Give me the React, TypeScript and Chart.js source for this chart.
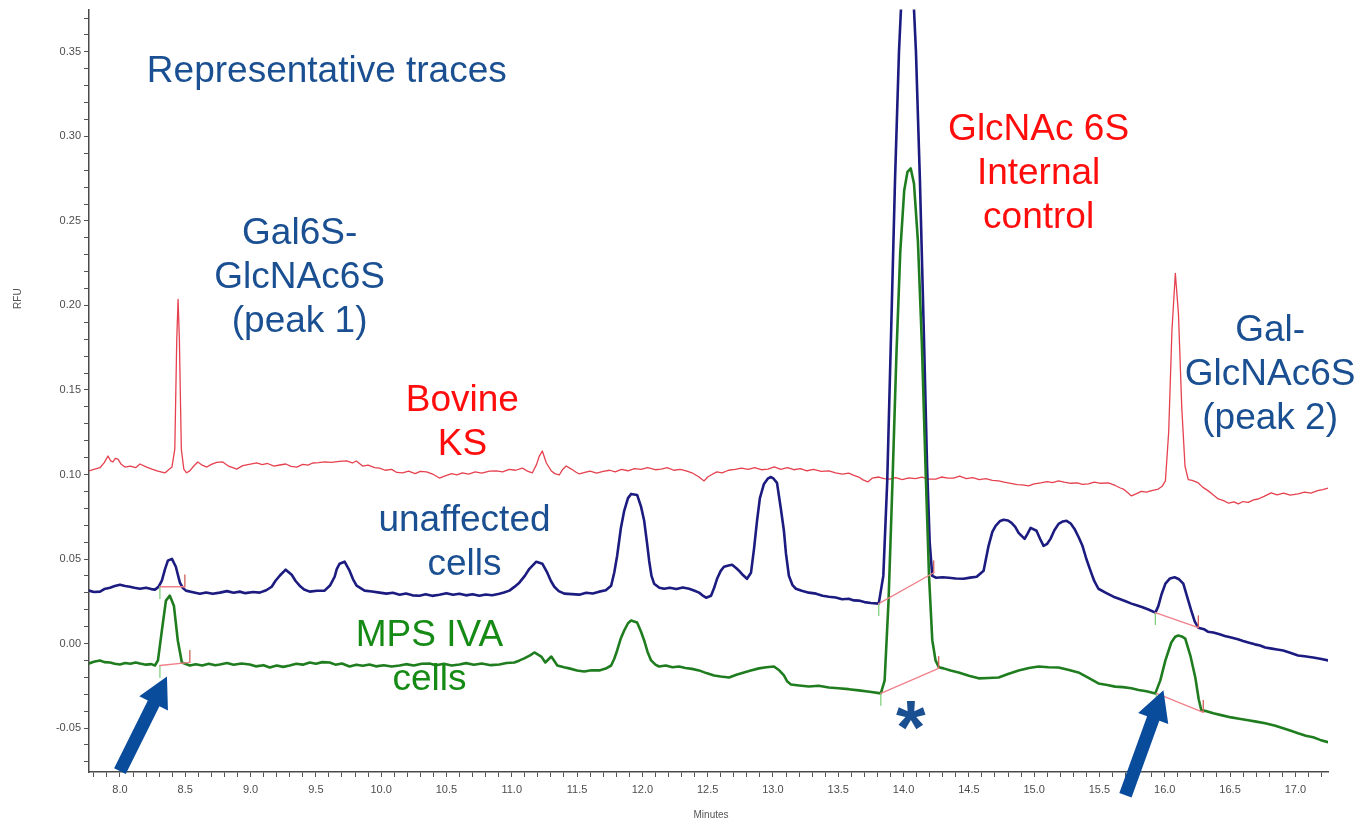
import React, { useEffect, useRef } from "react";
import { Chart, registerables } from "chart.js";

Chart.register(...registerables);

// ---------------- DATA ----------------
// Bovine KS (red trace)
const ksTime = [7.763, 7.8, 7.847, 7.88, 7.908, 7.93, 7.946, 7.965, 7.985, 8.01, 8.038, 8.08, 8.12, 8.153, 8.2, 8.245, 8.29, 8.344, 8.375, 8.398, 8.42, 8.435, 8.445, 8.455, 8.47, 8.489, 8.51, 8.535, 8.565, 8.596, 8.63, 8.665, 8.7, 8.74, 8.787, 8.83, 8.865, 8.894, 8.94, 8.99, 9.047, 9.09, 9.13, 9.18, 9.223, 9.27, 9.31, 9.353, 9.4, 9.44, 9.476, 9.52, 9.57, 9.62, 9.68, 9.735, 9.78, 9.81, 9.858, 9.9, 9.95, 9.988, 10.03, 10.08, 10.12, 10.164, 10.21, 10.26, 10.3, 10.347, 10.4, 10.446, 10.49, 10.54, 10.58, 10.622, 10.67, 10.72, 10.77, 10.83, 10.882, 10.93, 10.98, 11.03, 11.081, 11.12, 11.157, 11.19, 11.211, 11.234, 11.265, 11.303, 11.33, 11.364, 11.39, 11.417, 11.456, 11.49, 11.517, 11.56, 11.6, 11.65, 11.7, 11.75, 11.792, 11.84, 11.89, 11.94, 11.99, 12.04, 12.1, 12.144, 12.19, 12.24, 12.29, 12.335, 12.38, 12.434, 12.473, 12.5, 12.526, 12.57, 12.61, 12.66, 12.71, 12.76, 12.81, 12.86, 12.91, 12.962, 13.01, 13.06, 13.11, 13.16, 13.21, 13.26, 13.31, 13.37, 13.428, 13.48, 13.53, 13.58, 13.62, 13.657, 13.69, 13.726, 13.76, 13.81, 13.85, 13.894, 13.94, 13.99, 14.04, 14.09, 14.14, 14.19, 14.246, 14.29, 14.34, 14.384, 14.43, 14.48, 14.53, 14.58, 14.63, 14.68, 14.728, 14.77, 14.82, 14.87, 14.91, 14.957, 15.0, 15.05, 15.1, 15.14, 15.187, 15.23, 15.28, 15.33, 15.37, 15.416, 15.46, 15.51, 15.569, 15.62, 15.66, 15.683, 15.72, 15.745, 15.78, 15.82, 15.86, 15.9, 15.951, 15.98, 16.005, 16.03, 16.055, 16.081, 16.105, 16.13, 16.155, 16.18, 16.21, 16.257, 16.29, 16.333, 16.37, 16.41, 16.45, 16.49, 16.53, 16.563, 16.6, 16.64, 16.68, 16.716, 16.76, 16.815, 16.86, 16.91, 16.96, 17.021, 17.07, 17.12, 17.17, 17.21, 17.251];
const ksValue = [0.1021, 0.103, 0.104, 0.107, 0.1109, 0.108, 0.1074, 0.1095, 0.1091, 0.106, 0.1044, 0.105, 0.104, 0.1062, 0.1045, 0.1032, 0.102, 0.1009, 0.103, 0.1044, 0.115, 0.18, 0.2035, 0.18, 0.115, 0.1032, 0.101, 0.1021, 0.105, 0.1074, 0.1055, 0.1044, 0.106, 0.1072, 0.1074, 0.105, 0.104, 0.1032, 0.1052, 0.106, 0.1068, 0.1058, 0.1065, 0.105, 0.1056, 0.1062, 0.1048, 0.1044, 0.106, 0.1055, 0.1068, 0.107, 0.1075, 0.1072, 0.1078, 0.108, 0.1068, 0.108, 0.105, 0.1055, 0.104, 0.1038, 0.1025, 0.103, 0.1012, 0.1009, 0.102, 0.1005, 0.1018, 0.1015, 0.1, 0.0979, 0.0992, 0.1005, 0.0998, 0.1009, 0.1002, 0.1015, 0.1008, 0.102, 0.1021, 0.1015, 0.103, 0.1025, 0.1038, 0.102, 0.1009, 0.106, 0.1109, 0.1139, 0.1068, 0.1021, 0.1005, 0.0997, 0.103, 0.105, 0.1032, 0.1015, 0.1003, 0.1012, 0.102, 0.1008, 0.1018, 0.1025, 0.1015, 0.103, 0.1022, 0.1035, 0.103, 0.104, 0.1028, 0.1032, 0.104, 0.1025, 0.103, 0.1021, 0.101, 0.0985, 0.0962, 0.0985, 0.0997, 0.1015, 0.1009, 0.1025, 0.103, 0.1038, 0.103, 0.104, 0.1028, 0.1032, 0.1045, 0.103, 0.104, 0.1028, 0.1035, 0.1022, 0.103, 0.1018, 0.1021, 0.101, 0.1002, 0.1008, 0.0995, 0.0985, 0.0968, 0.0956, 0.0978, 0.0985, 0.0975, 0.0973, 0.0982, 0.097, 0.098, 0.0975, 0.0985, 0.0972, 0.0973, 0.0985, 0.0978, 0.0979, 0.099, 0.0975, 0.0982, 0.097, 0.0975, 0.0965, 0.0962, 0.0955, 0.0948, 0.094, 0.0938, 0.0932, 0.0945, 0.095, 0.0958, 0.0952, 0.0962, 0.0955, 0.0948, 0.095, 0.0942, 0.0944, 0.0955, 0.0948, 0.095, 0.0935, 0.092, 0.0914, 0.089, 0.0873, 0.0885, 0.09, 0.0895, 0.0905, 0.0914, 0.093, 0.0962, 0.125, 0.185, 0.219, 0.195, 0.14, 0.105, 0.097, 0.0965, 0.095, 0.0925, 0.0903, 0.088, 0.0855, 0.0845, 0.083, 0.0838, 0.0826, 0.084, 0.0835, 0.085, 0.0855, 0.087, 0.0891, 0.088, 0.089, 0.0878, 0.0885, 0.0895, 0.089, 0.0905, 0.091, 0.092];

// unaffected cells (blue trace)
const unaffectedTime = [7.763, 7.8, 7.847, 7.88, 7.924, 7.96, 8.0, 8.04, 8.076, 8.11, 8.153, 8.2, 8.24, 8.268, 8.295, 8.321, 8.345, 8.367, 8.398, 8.428, 8.459, 8.48, 8.505, 8.55, 8.612, 8.66, 8.71, 8.765, 8.82, 8.87, 8.917, 8.96, 9.02, 9.07, 9.12, 9.162, 9.19, 9.223, 9.269, 9.315, 9.345, 9.376, 9.41, 9.453, 9.51, 9.567, 9.61, 9.644, 9.66, 9.682, 9.72, 9.758, 9.785, 9.812, 9.873, 9.93, 9.988, 10.04, 10.09, 10.141, 10.19, 10.24, 10.294, 10.34, 10.39, 10.446, 10.5, 10.55, 10.599, 10.65, 10.7, 10.752, 10.8, 10.85, 10.905, 10.94, 10.982, 11.02, 11.058, 11.1, 11.135, 11.188, 11.234, 11.272, 11.3, 11.326, 11.36, 11.402, 11.46, 11.517, 11.57, 11.62, 11.67, 11.72, 11.761, 11.785, 11.807, 11.835, 11.861, 11.89, 11.914, 11.96, 11.99, 12.014, 12.035, 12.052, 12.07, 12.09, 12.13, 12.167, 12.21, 12.26, 12.31, 12.358, 12.4, 12.434, 12.46, 12.488, 12.526, 12.55, 12.572, 12.6, 12.625, 12.66, 12.687, 12.72, 12.74, 12.77, 12.801, 12.832, 12.855, 12.878, 12.9, 12.931, 12.96, 12.985, 13.005, 13.031, 13.06, 13.084, 13.1, 13.122, 13.15, 13.176, 13.22, 13.275, 13.33, 13.38, 13.428, 13.48, 13.53, 13.58, 13.62, 13.657, 13.7, 13.75, 13.81, 13.845, 13.875, 13.905, 13.935, 13.965, 13.995, 14.03, 14.065, 14.095, 14.125, 14.155, 14.18, 14.2, 14.22, 14.25, 14.3, 14.346, 14.4, 14.46, 14.51, 14.56, 14.613, 14.651, 14.68, 14.705, 14.74, 14.766, 14.8, 14.827, 14.855, 14.881, 14.927, 14.95, 14.973, 15.018, 15.045, 15.072, 15.1, 15.125, 15.155, 15.187, 15.22, 15.248, 15.28, 15.309, 15.34, 15.37, 15.4, 15.431, 15.46, 15.492, 15.55, 15.607, 15.66, 15.7, 15.745, 15.79, 15.83, 15.875, 15.928, 15.95, 15.975, 16.005, 16.04, 16.075, 16.11, 16.142, 16.17, 16.203, 16.23, 16.257, 16.3, 16.33, 16.372, 16.42, 16.46, 16.509, 16.56, 16.6, 16.639, 16.69, 16.73, 16.769, 16.82, 16.86, 16.907, 16.96, 17.021, 17.07, 17.136, 17.19, 17.251];
const unaffectedValue = [0.0313, 0.0305, 0.0307, 0.0322, 0.033, 0.034, 0.0348, 0.034, 0.0336, 0.033, 0.0324, 0.033, 0.0322, 0.0319, 0.0335, 0.0372, 0.044, 0.049, 0.0501, 0.0454, 0.036, 0.033, 0.0313, 0.0305, 0.0295, 0.0302, 0.0294, 0.0301, 0.031, 0.03, 0.0307, 0.0298, 0.0305, 0.0301, 0.0315, 0.0336, 0.037, 0.0401, 0.0437, 0.0407, 0.037, 0.0342, 0.032, 0.0307, 0.0312, 0.0313, 0.0345, 0.0395, 0.044, 0.0472, 0.0484, 0.0431, 0.038, 0.0342, 0.0313, 0.0308, 0.0301, 0.0295, 0.03, 0.0289, 0.0296, 0.0285, 0.0283, 0.0292, 0.0282, 0.0289, 0.0298, 0.0288, 0.0295, 0.0285, 0.0292, 0.0283, 0.029, 0.0286, 0.0295, 0.0302, 0.0313, 0.0335, 0.036, 0.04, 0.0442, 0.0484, 0.0472, 0.0419, 0.037, 0.0336, 0.031, 0.0295, 0.0292, 0.0289, 0.03, 0.0296, 0.0307, 0.0315, 0.0342, 0.042, 0.0519, 0.068, 0.0785, 0.086, 0.0885, 0.0879, 0.081, 0.0726, 0.06, 0.049, 0.04, 0.0354, 0.033, 0.0324, 0.033, 0.0322, 0.0332, 0.0324, 0.0312, 0.0301, 0.0285, 0.0271, 0.0283, 0.033, 0.0383, 0.043, 0.0454, 0.0462, 0.0466, 0.0445, 0.0431, 0.0405, 0.0383, 0.0419, 0.056, 0.0726, 0.086, 0.0944, 0.0975, 0.0985, 0.0975, 0.095, 0.08, 0.0667, 0.053, 0.0401, 0.0345, 0.0324, 0.0312, 0.0301, 0.0295, 0.0283, 0.0277, 0.0272, 0.0262, 0.0265, 0.0255, 0.0254, 0.0245, 0.024, 0.0236, 0.04, 0.096, 0.185, 0.275, 0.35, 0.4, 0.42, 0.4, 0.35, 0.275, 0.185, 0.105, 0.06, 0.04, 0.0389, 0.0392, 0.0389, 0.0385, 0.0383, 0.039, 0.0395, 0.0431, 0.0578, 0.066, 0.0696, 0.0725, 0.0732, 0.0728, 0.0714, 0.069, 0.0655, 0.0619, 0.065, 0.0684, 0.0667, 0.062, 0.0578, 0.059, 0.0619, 0.067, 0.0708, 0.0722, 0.0726, 0.071, 0.0678, 0.063, 0.0578, 0.05, 0.0431, 0.037, 0.0324, 0.03, 0.0277, 0.0262, 0.025, 0.0236, 0.0225, 0.0215, 0.0201, 0.0183, 0.022, 0.029, 0.0354, 0.0385, 0.0392, 0.038, 0.0354, 0.028, 0.0195, 0.013, 0.0094, 0.0085, 0.007, 0.0065, 0.0055, 0.0045, 0.0035, 0.0025, 0.0015, 0.0006, -0.0005, -0.0012, -0.0024, -0.003, -0.0035, -0.0041, -0.0055, -0.0071, -0.0075, -0.0083, -0.009, -0.01];

// MPS IVA cells (green trace)
const mpsTime = [7.763, 7.8, 7.847, 7.88, 7.924, 7.96, 8.0, 8.04, 8.08, 8.12, 8.153, 8.2, 8.24, 8.268, 8.291, 8.321, 8.352, 8.382, 8.413, 8.443, 8.474, 8.535, 8.58, 8.63, 8.68, 8.73, 8.765, 8.82, 8.87, 8.93, 8.994, 9.04, 9.1, 9.147, 9.2, 9.25, 9.3, 9.35, 9.4, 9.453, 9.5, 9.55, 9.606, 9.65, 9.7, 9.758, 9.81, 9.86, 9.911, 9.96, 10.02, 10.08, 10.141, 10.19, 10.25, 10.31, 10.37, 10.42, 10.48, 10.54, 10.599, 10.65, 10.71, 10.77, 10.84, 10.905, 10.96, 11.02, 11.06, 11.096, 11.14, 11.173, 11.226, 11.257, 11.303, 11.349, 11.4, 11.44, 11.5, 11.555, 11.61, 11.67, 11.72, 11.761, 11.785, 11.807, 11.835, 11.861, 11.89, 11.914, 11.96, 11.99, 12.014, 12.04, 12.067, 12.1, 12.128, 12.18, 12.23, 12.281, 12.33, 12.38, 12.434, 12.49, 12.549, 12.6, 12.664, 12.72, 12.778, 12.83, 12.893, 12.95, 13.008, 13.05, 13.084, 13.11, 13.138, 13.2, 13.275, 13.35, 13.428, 13.5, 13.58, 13.657, 13.74, 13.826, 13.855, 13.885, 13.915, 13.945, 13.975, 14.005, 14.03, 14.055, 14.08, 14.11, 14.14, 14.17, 14.195, 14.22, 14.245, 14.27, 14.307, 14.36, 14.422, 14.5, 14.575, 14.65, 14.728, 14.8, 14.881, 14.96, 15.034, 15.11, 15.187, 15.26, 15.339, 15.42, 15.492, 15.56, 15.62, 15.68, 15.745, 15.8, 15.86, 15.928, 15.966, 16.005, 16.05, 16.08, 16.104, 16.13, 16.157, 16.196, 16.234, 16.26, 16.28, 16.32, 16.372, 16.44, 16.509, 16.57, 16.639, 16.7, 16.769, 16.84, 16.907, 16.96, 17.021, 17.08, 17.136, 17.19, 17.251];
const mpsValue = [-0.0118, -0.0108, -0.01, -0.011, -0.0112, -0.012, -0.0124, -0.0115, -0.012, -0.0112, -0.0118, -0.0125, -0.0122, -0.013, -0.01, 0.0077, 0.0254, 0.0283, 0.0224, 0.0018, -0.0112, -0.013, -0.0122, -0.013, -0.012, -0.0128, -0.0124, -0.0115, -0.0126, -0.0118, -0.0124, -0.0135, -0.0128, -0.0142, -0.013, -0.0138, -0.013, -0.012, -0.0125, -0.0112, -0.012, -0.011, -0.0112, -0.0125, -0.0118, -0.0136, -0.0125, -0.0132, -0.0124, -0.0135, -0.0128, -0.0136, -0.013, -0.0122, -0.013, -0.012, -0.0118, -0.0128, -0.012, -0.013, -0.0124, -0.0116, -0.0126, -0.0118, -0.0128, -0.0124, -0.0115, -0.0112, -0.01, -0.0088, -0.007, -0.0053, -0.0077, -0.0112, -0.0077, -0.013, -0.014, -0.0147, -0.016, -0.0165, -0.0158, -0.0159, -0.0148, -0.013, -0.009, -0.0041, 0.003, 0.0077, 0.012, 0.0136, 0.0124, 0.007, 0.0018, -0.005, -0.01, -0.0125, -0.0136, -0.013, -0.014, -0.0136, -0.0145, -0.015, -0.0159, -0.0175, -0.0189, -0.0195, -0.0201, -0.0185, -0.0171, -0.016, -0.0147, -0.014, -0.0136, -0.016, -0.0189, -0.0225, -0.0242, -0.0248, -0.0254, -0.025, -0.026, -0.0265, -0.027, -0.0277, -0.0285, -0.0295, -0.022, 0.025, 0.095, 0.17, 0.232, 0.268, 0.279, 0.281, 0.272, 0.238, 0.178, 0.1, 0.04, 0.002, -0.01, -0.014, -0.0147, -0.016, -0.0171, -0.019, -0.0206, -0.0204, -0.0201, -0.018, -0.0159, -0.0145, -0.0136, -0.014, -0.0142, -0.0155, -0.0171, -0.0205, -0.0236, -0.0245, -0.0255, -0.0258, -0.0265, -0.0275, -0.0282, -0.0295, -0.0218, -0.01, 0.0006, 0.004, 0.0047, 0.0042, 0.0029, -0.0071, -0.0201, -0.033, -0.0395, -0.04, -0.0413, -0.0425, -0.0437, -0.0445, -0.0454, -0.0462, -0.0472, -0.0485, -0.0501, -0.0515, -0.0531, -0.0545, -0.0555, -0.057, -0.0584];

// integration baselines (start / end of each integrated peak)
const baselineStartTime = [8.306, 8.306, 13.81, 13.826, 15.928, 15.936];
const baselineStartValue = [0.0336, -0.013, 0.0236, -0.0295, 0.0183, -0.0295];
const baselineEndTime = [8.497, 8.535, 14.231, 14.269, 16.257, 16.295];
const baselineEndValue = [0.0336, -0.0112, 0.0419, -0.0147, 0.0094, -0.0407];

// axis tick labels
const xTickLabels = ["8.0", "8.5", "9.0", "9.5", "10.0", "10.5", "11.0", "11.5", "12.0", "12.5", "13.0", "13.5", "14.0", "14.5", "15.0", "15.5", "16.0", "16.5", "17.0"];
const yTickLabels = ["-0.05", "0.00", "0.05", "0.10", "0.15", "0.20", "0.25", "0.30", "0.35"];

// ---------------- STYLE ----------------
const RED_TRACE = "#e5414f";
const BLUE_TRACE = "#1b1b80";
const GREEN_TRACE = "#1f7d1f";
const BASE_LINE = "#f0808a";
const TXT_BLUE = "#1a4f92";
const TXT_RED = "#ff0d0d";
const TXT_GREEN = "#158a15";
const ARROW = "#0a4c9c";
const FONT = '"Liberation Sans", Arial, sans-serif';

type Note = { lines: string[]; t: number; v: number; color: string; align?: CanvasTextAlign };
const notes: Note[] = [
  { lines: ["Representative traces"], t: 8.206, v: 0.338, color: TXT_BLUE, align: "left" },
  { lines: ["Gal6S-", "GlcNAc6S", "(peak 1)"], t: 9.376, v: 0.2425, color: TXT_BLUE },
  { lines: ["Bovine", "KS"], t: 10.622, v: 0.1434, color: TXT_RED },
  { lines: ["unaffected", "cells"], t: 10.638, v: 0.0726, color: TXT_BLUE },
  { lines: ["MPS IVA", "cells"], t: 10.37, v: 0.0047, color: TXT_GREEN },
  { lines: ["GlcNAc 6S", "Internal", "control"], t: 15.034, v: 0.3038, color: TXT_RED },
  { lines: ["Gal-", "GlcNAc6S", "(peak 2)"], t: 16.807, v: 0.1847, color: TXT_BLUE },
];
const arrows = [
  { t0: 8.0, v0: -0.0755, t1: 8.36, v1: -0.0195 },
  { t0: 15.699, v0: -0.0897, t1: 15.99, v1: -0.0277 },
];
const asterisk = { t: 14.055, v: -0.0425 };

const annotationPlugin = {
  id: "annotations",
  afterDraw(chart: any) {
    const ctx: CanvasRenderingContext2D = chart.ctx;
    const xs = chart.scales.x;
    const ys = chart.scales.y;
    const ca = chart.chartArea;
    ctx.save();
    ctx.textBaseline = "middle";
    ctx.font = `37px ${FONT}`;
    for (const n of notes) {
      ctx.fillStyle = n.color;
      ctx.textAlign = n.align || "center";
      const x = xs.getPixelForValue(n.t);
      const y0 = ys.getPixelForValue(n.v);
      n.lines.forEach((l, i) => ctx.fillText(l, x, y0 + i * 44));
    }
    ctx.fillStyle = ARROW;
    for (const a of arrows) {
      const x0 = xs.getPixelForValue(a.t0), y0 = ys.getPixelForValue(a.v0);
      const x1 = xs.getPixelForValue(a.t1), y1 = ys.getPixelForValue(a.v1);
      const dx = x1 - x0, dy = y1 - y0;
      const len = Math.hypot(dx, dy);
      const ux = dx / len, uy = dy / len;
      const px = -uy, py = ux;
      const sw = 6.5, hw = 16, hl = 30;
      const bx = x1 - ux * hl, by = y1 - uy * hl;
      ctx.beginPath();
      ctx.moveTo(x0 + px * sw, y0 + py * sw);
      ctx.lineTo(bx + px * sw, by + py * sw);
      ctx.lineTo(bx + px * hw, by + py * hw);
      ctx.lineTo(x1, y1);
      ctx.lineTo(bx - px * hw, by - py * hw);
      ctx.lineTo(bx - px * sw, by - py * sw);
      ctx.lineTo(x0 - px * sw, y0 - py * sw);
      ctx.closePath();
      ctx.fill();
    }
    ctx.font = `bold 76px ${FONT}`;
    ctx.textAlign = "center";
    ctx.textBaseline = "alphabetic";
    ctx.fillStyle = TXT_BLUE;
    const m = ctx.measureText("*");
    const ax = xs.getPixelForValue(asterisk.t);
    const ay = ys.getPixelForValue(asterisk.v) + (m.actualBoundingBoxAscent - m.actualBoundingBoxDescent) / 2;
    ctx.fillText("*", ax, ay);
    ctx.fillStyle = "#555";
    ctx.font = `10px ${FONT}`;
    ctx.textBaseline = "middle";
    ctx.textAlign = "center";
    ctx.fillText("Minutes", xs.getPixelForValue(12.526), ca.bottom + 43);
    ctx.translate(ca.left - 71, ys.getPixelForValue(0.204));
    ctx.rotate(-Math.PI / 2);
    ctx.fillText("RFU", 0, 0);
    ctx.restore();
  },
};

function pts(t: number[], v: number[]) {
  return t.map((x, i) => ({ x, y: v[i] }));
}

export default function App() {
  const ref = useRef<HTMLCanvasElement | null>(null);
  useEffect(() => {
    if (!ref.current) return;
    const baseSets: any[] = [];
    baselineStartTime.forEach((t0, i) => {
      const v0 = baselineStartValue[i];
      const t1 = baselineEndTime[i];
      const v1 = baselineEndValue[i];
      baseSets.push({ data: [{ x: t0, y: v0 }, { x: t1, y: v1 }], borderColor: BASE_LINE, borderWidth: 1.3, order: 0 });
      baseSets.push({ data: [{ x: t0, y: v0 }, { x: t0, y: v0 - 0.007 }], borderColor: "#7fd07f", borderWidth: 1.3, order: 0 });
      baseSets.push({ data: [{ x: t1, y: v1 }, { x: t1, y: v1 + 0.007 }], borderColor: "#d0605a", borderWidth: 1.3, order: 0 });
    });
    const chart = new Chart(ref.current, {
      type: "line",
      data: {
        datasets: [
          ...baseSets,
          { label: "MPS IVA cells", data: pts(mpsTime, mpsValue), borderColor: GREEN_TRACE, borderWidth: 2.6, order: 1 },
          { label: "unaffected cells", data: pts(unaffectedTime, unaffectedValue), borderColor: BLUE_TRACE, borderWidth: 2.6, order: 2 },
          { label: "Bovine KS", data: pts(ksTime, ksValue), borderColor: RED_TRACE, borderWidth: 1.3, order: 3 },
        ],
      },
      options: {
        responsive: false,
        devicePixelRatio: 1,
        animation: false,
        layout: { padding: { left: 0, top: 7, right: 35, bottom: 0 } },
        elements: { point: { radius: 0 }, line: { tension: 0, borderJoinStyle: "round", borderCapStyle: "round" } },
        plugins: { legend: { display: false }, tooltip: { enabled: false }, title: { display: false } },
        scales: {
          x: {
            type: "linear",
            min: 7.763,
            max: 17.25,
            afterFit: (s: any) => { s.height = 51; },
            border: { color: "#4a4a4a", width: 1.5 },
            grid: { drawOnChartArea: false, tickLength: 5, tickColor: "#555" },
            ticks: {
              stepSize: 0.1,
              includeBounds: false,
              autoSkip: false,
              maxRotation: 0,
              padding: 6,
              color: "#4d4d4d",
              font: { family: FONT, size: 11 },
              callback: (val: any) => {
                const v = Number(val);
                const idx = xTickLabels.findIndex((l) => Math.abs(parseFloat(l) - v) < 1e-6);
                return idx >= 0 ? xTickLabels[idx] : "";
              },
            },
          },
          y: {
            type: "linear",
            min: -0.076,
            max: 0.375,
            afterFit: (s: any) => { s.width = 89; },
            border: { color: "#4a4a4a", width: 1.5 },
            grid: { drawOnChartArea: false, tickLength: 5, tickColor: "#555" },
            ticks: {
              stepSize: 0.01,
              includeBounds: false,
              autoSkip: false,
              padding: 3,
              color: "#4d4d4d",
              font: { family: FONT, size: 11 },
              callback: (val: any) => {
                const v = Number(val);
                const idx = yTickLabels.findIndex((l) => Math.abs(parseFloat(l) - v) < 1e-6);
                return idx >= 0 ? yTickLabels[idx] : "";
              },
            },
          },
        },
      },
      plugins: [annotationPlugin],
    } as any);
    return () => chart.destroy();
  }, []);
  return (
    <div style={{ position: "absolute", left: 0, top: 0, width: 1363, height: 823, background: "#fff" }}>
      <canvas ref={ref} width={1363} height={823} style={{ display: "block" }} />
    </div>
  );
}
